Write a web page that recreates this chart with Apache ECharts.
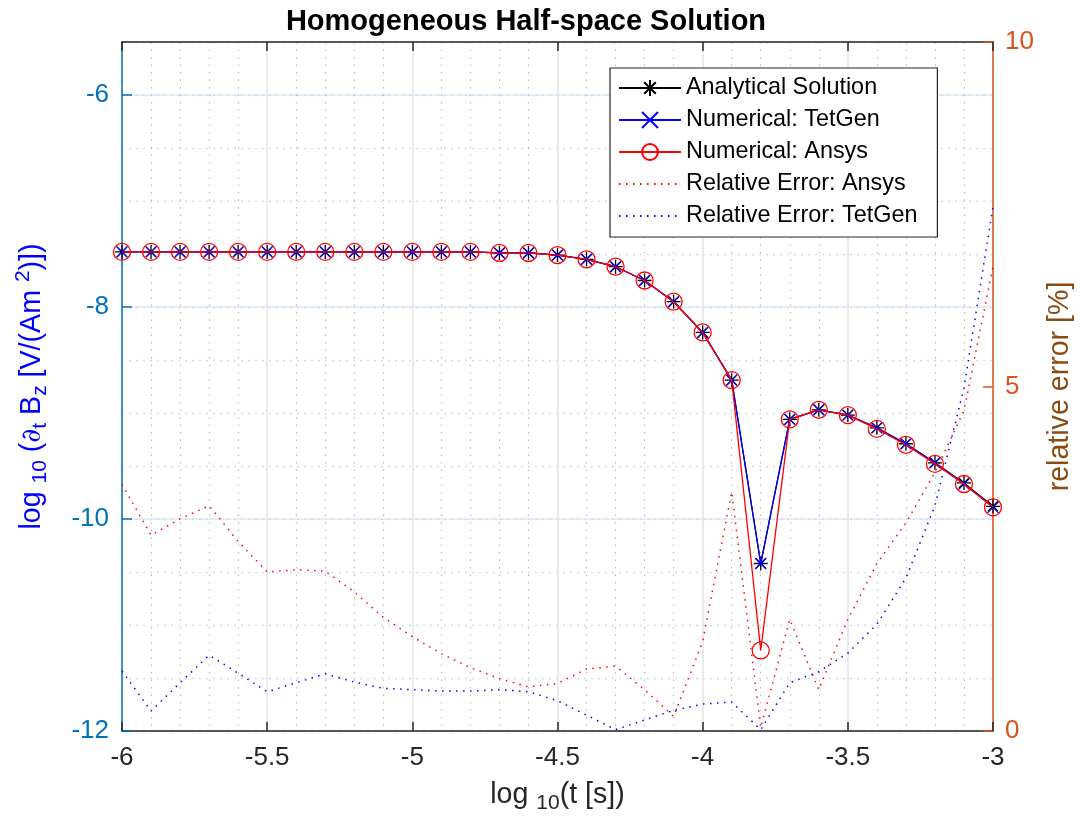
<!DOCTYPE html>
<html>
<head>
<meta charset="utf-8">
<script src="https://cdn.jsdelivr.net/npm/echarts@6/dist/echarts.min.js"></script>
<style>
html,body{margin:0;padding:0;background:#fff;}
#chart{width:1080px;height:821px;}
</style>
</head>
<body>
<div id="chart"></div>
<script>
// ---- data ----
const logT = [-6.0,-5.9,-5.8,-5.7,-5.6,-5.5,-5.4,-5.3,-5.2,-5.1,-5.0,-4.9,-4.8,-4.7,-4.6,-4.5,-4.4,-4.3,-4.2,-4.1,-4.0,-3.9,-3.8,-3.7,-3.6,-3.5,-3.4,-3.3,-3.2,-3.1,-3.0];
const analytical = [-7.48,-7.48,-7.48,-7.48,-7.48,-7.48,-7.48,-7.48,-7.48,-7.48,-7.48,-7.48,-7.48,-7.49,-7.49,-7.51,-7.55,-7.62,-7.75,-7.95,-8.24,-8.69,-10.42,-9.06,-8.97,-9.02,-9.14,-9.29,-9.47,-9.66,-9.88];
const tetgen     = [-7.48,-7.48,-7.48,-7.48,-7.48,-7.48,-7.48,-7.48,-7.48,-7.48,-7.48,-7.48,-7.48,-7.49,-7.49,-7.51,-7.55,-7.62,-7.75,-7.95,-8.24,-8.69,-10.42,-9.06,-8.97,-9.02,-9.14,-9.29,-9.47,-9.67,-9.89];
const ansys      = [-7.48,-7.48,-7.48,-7.48,-7.48,-7.48,-7.48,-7.48,-7.48,-7.48,-7.48,-7.48,-7.48,-7.49,-7.49,-7.51,-7.55,-7.62,-7.75,-7.95,-8.24,-8.69,-11.24,-9.06,-8.97,-9.02,-9.15,-9.30,-9.48,-9.67,-9.89];
const errAnsys   = [3.58,2.84,3.08,3.27,2.75,2.31,2.34,2.32,2.02,1.65,1.37,1.12,0.92,0.76,0.64,0.69,0.90,0.94,0.60,0.21,1.30,3.47,0.05,1.62,0.60,1.62,2.43,3.02,3.75,4.65,6.74];
const errTetgen  = [0.87,0.29,0.70,1.10,0.84,0.57,0.70,0.83,0.71,0.62,0.60,0.58,0.58,0.60,0.57,0.44,0.23,0.02,0.16,0.30,0.39,0.42,0.02,0.70,0.86,1.13,1.55,2.22,3.27,4.98,7.61];
const xTickLabels = ['-6','-5.5','-5','-4.5','-4','-3.5','-3'];
const yLeftTickLabels = ['-12','-10','-8','-6'];
const yRightTickLabels = ['0','5','10'];

const pairs = (ys) => logT.map((t, i) => [t, ys[i]]);

const FONT = 'Liberation Sans, Arial, Helvetica, sans-serif';
const BLUE_AX = '#0072BD';
const ORANGE_AX = '#D95319';
const DARK = '#262626';

const asterisk = 'path://M0,-1L0,1M-1,0L1,0M-0.72,-0.72L0.72,0.72M-0.72,0.72L0.72,-0.72';
const cross = 'path://M-1,-1L1,1M-1,1L1,-1';

const chart = echarts.init(document.getElementById('chart'), null, {renderer: 'canvas'});

const subStyle = (color, size) => ({fontSize: size, color: color, fontFamily: FONT, padding: [16, 0, 0, 0]});
const supStyle = (color, size) => ({fontSize: size, color: color, fontFamily: FONT, padding: [0, 0, 18, 0]});

const option = {
  animation: false,
  backgroundColor: '#ffffff',
  title: {
    text: 'Homogeneous Half-space Solution',
    left: 521, top: 2, textAlign: 'center',
    textStyle: {fontFamily: FONT, fontWeight: 'bold', fontSize: 29, color: '#000'}
  },
  grid: {left: 122, right: 87, top: 42, bottom: 90, containLabel: false, outerBoundsMode: 'none'},
  legend: {
    orient: 'vertical',
    left: 610, top: 68,
    backgroundColor: '#ffffff',
    borderColor: DARK, borderWidth: 1.2, borderRadius: 0,
    padding: [7, 20, 8, 8],
    itemWidth: 62, itemHeight: 20, itemGap: 6,
    textStyle: {fontFamily: FONT, fontSize: 23.4, color: '#000', lineHeight: 26},
    selectedMode: false,
    data: ['Analytical Solution','Numerical: TetGen','Numerical: Ansys','Relative Error: Ansys','Relative Error: TetGen']
  },
  xAxis: [
    {
      type: 'value', position: 'bottom', min: -6, max: -3, interval: 0.5,
      axisLine: {onZero: false, lineStyle: {color: DARK, width: 1.5}},
      axisTick: {inside: true, length: 9, lineStyle: {color: DARK, width: 1.5}},
      axisLabel: {color: DARK, fontFamily: FONT, fontSize: 26, margin: 14,
        formatter: (v) => { const i = Math.round((v + 6) / 0.5); return xTickLabels[i] !== undefined ? xTickLabels[i] : ''; }},
      splitLine: {show: true, lineStyle: {color: '#E3E3E3', width: 1.5}},
      minorTick: {show: false, splitNumber: 5},
      minorSplitLine: {show: true, lineStyle: {color: '#BEBEBE', width: 1.2, type: [1.5, 6]}},
      name: 'log {s|10}(t [s])',
      nameLocation: 'middle', nameGap: 46,
      nameTextStyle: {fontFamily: FONT, fontSize: 28.6, color: DARK, rich: {s: subStyle(DARK, 21)}}
    },
    {
      type: 'value', position: 'top', min: -6, max: -3, interval: 0.5,
      axisLine: {onZero: false, lineStyle: {color: DARK, width: 1.5}},
      axisTick: {inside: true, length: 9, lineStyle: {color: DARK, width: 1.5}},
      axisLabel: {show: false}, splitLine: {show: false}
    }
  ],
  yAxis: [
    {
      type: 'value', position: 'left', min: -12, max: -5.5, interval: 2,
      axisLine: {show: true, lineStyle: {color: BLUE_AX, width: 1.5}},
      axisTick: {show: true, inside: true, length: 10, lineStyle: {color: BLUE_AX, width: 1.5}},
      axisLabel: {color: BLUE_AX, fontFamily: FONT, fontSize: 26, margin: 13, showMaxLabel: false,
        formatter: (v) => { const i = Math.round((v + 12) / 2); return (Math.abs(v - (-12 + 2 * i)) < 1e-6 && yLeftTickLabels[i] !== undefined) ? yLeftTickLabels[i] : ''; }},
      splitLine: {show: true, lineStyle: {color: '#DCE9F3', width: 1.5}},
      name: 'log {s|10} ({d|∂}{s|t} B{s|z} [V/(Am {p|2})])',
      nameLocation: 'middle', nameRotate: 90, nameGap: 70,
      nameTextStyle: {fontFamily: FONT, fontSize: 28.6, color: '#0000FF',
        rich: {s: subStyle('#0000FF', 21), p: supStyle('#0000FF', 21),
               d: {fontFamily: 'DejaVu Serif', fontStyle: 'italic', fontSize: 27, color: '#0000FF'}}}
    },
    {
      type: 'value', position: 'right', min: 0, max: 10, interval: 5,
      axisLine: {show: true, lineStyle: {color: ORANGE_AX, width: 1.5}},
      axisTick: {show: true, inside: true, length: 10, lineStyle: {color: ORANGE_AX, width: 1.5}},
      axisLabel: {color: ORANGE_AX, fontFamily: FONT, fontSize: 26, margin: 12,
        formatter: (v) => { const i = Math.round(v / 5); return yRightTickLabels[i] !== undefined ? yRightTickLabels[i] : ''; }},
      splitLine: {show: false},
      name: 'relative error [%]',
      nameLocation: 'middle', nameRotate: 90, nameGap: 53,
      nameTextStyle: {fontFamily: FONT, fontSize: 28.6, color: '#8A4B12'}
    },
    {
      type: 'value', position: 'left', min: -12, max: -5.5, interval: 0.5,
      axisLine: {show: false}, axisTick: {show: false}, axisLabel: {show: false},
      splitLine: {show: true, lineStyle: {color: '#C9DFEE', width: 1.3, type: [2, 5]}}
    }
  ],
  series: [
    {
      name: 'Analytical Solution', type: 'line', xAxisIndex: 0, yAxisIndex: 0,
      data: pairs(analytical), showAllSymbol: true,
      symbol: asterisk, symbolSize: 14,
      itemStyle: {color: '#000000', borderColor: '#000000', borderWidth: 1.3},
      lineStyle: {color: '#000000', width: 1.3},
      emphasis: {disabled: true}, silent: true, z: 3
    },
    {
      name: 'Numerical: TetGen', type: 'line', xAxisIndex: 0, yAxisIndex: 0,
      data: pairs(tetgen), showAllSymbol: true,
      symbol: cross, symbolSize: 11,
      itemStyle: {color: '#0000FF', borderColor: '#0000FF', borderWidth: 1.3},
      lineStyle: {color: '#0000FF', width: 1.3},
      emphasis: {disabled: true}, silent: true, z: 4
    },
    {
      name: 'Numerical: Ansys', type: 'line', xAxisIndex: 0, yAxisIndex: 0,
      data: pairs(ansys), showAllSymbol: true,
      symbol: 'circle', symbolSize: 17,
      itemStyle: {color: 'rgba(255,255,255,0)', borderColor: '#FF0000', borderWidth: 1.3},
      lineStyle: {color: '#FF0000', width: 1.3},
      emphasis: {disabled: true}, silent: true, z: 5
    },
    {
      name: 'Relative Error: Ansys', type: 'line', xAxisIndex: 0, yAxisIndex: 1,
      data: pairs(errAnsys), symbol: 'circle', showSymbol: false,
      itemStyle: {color: 'rgba(0,0,0,0)', borderColor: 'rgba(0,0,0,0)', borderWidth: 0},
      lineStyle: {color: '#FF0000', width: 1.5, type: [1.5, 5.5]},
      emphasis: {disabled: true}, silent: true, z: 2
    },
    {
      name: 'Relative Error: TetGen', type: 'line', xAxisIndex: 0, yAxisIndex: 1,
      data: pairs(errTetgen), symbol: 'circle', showSymbol: false,
      itemStyle: {color: 'rgba(0,0,0,0)', borderColor: 'rgba(0,0,0,0)', borderWidth: 0},
      lineStyle: {color: '#0000FF', width: 1.5, type: [1.5, 5.5]},
      emphasis: {disabled: true}, silent: true, z: 2
    }
  ]
};
chart.setOption(option);
</script>
</body>
</html>
